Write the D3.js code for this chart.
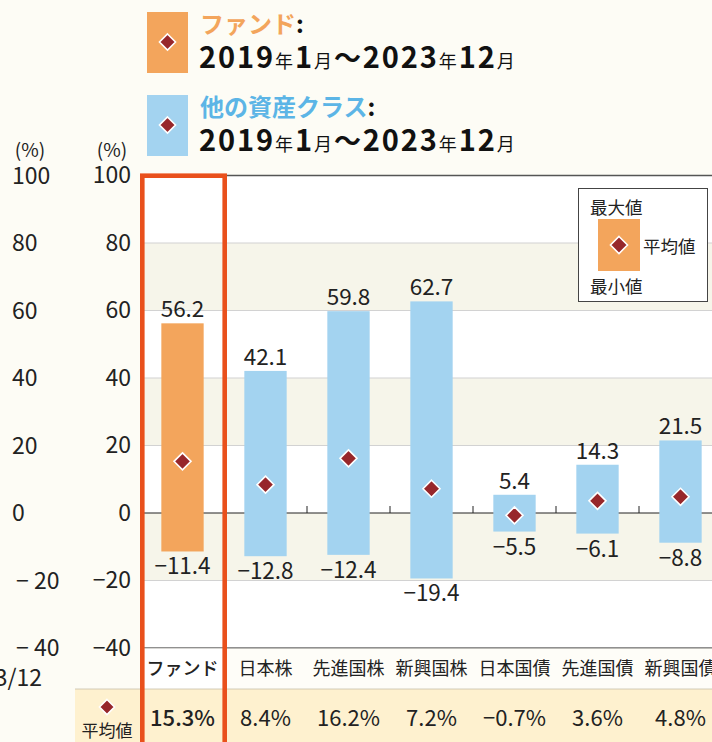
<!DOCTYPE html>
<html><head><meta charset="utf-8">
<script src="https://cdn.jsdelivr.net/npm/d3@7"></script>
<style>
html,body{margin:0;padding:0;background:#fdfcf5;}
svg{display:block;font-family:"Noto Sans CJK JP","Noto Sans",sans-serif;}
</style></head>
<body><svg id="c" width="712" height="742"></svg>
<script>
const categories = ["ファンド","日本株","先進国株","新興国株","日本国債","先進国債","新興国債"];
const maxValues = [56.2, 42.1, 59.8, 62.7, 5.4, 14.3, 21.5];
const minValues = [-11.4, -12.8, -12.4, -19.4, -5.5, -6.1, -8.8];
const avgValues = [15.3, 8.4, 16.2, 7.2, -0.7, 3.6, 4.8];
const avgLabels = ["15.3%","8.4%","16.2%","7.2%","−0.7%","3.6%","4.8%"];
const yTicks = [100, 80, 60, 40, 20, 0, -20, -40];
const yTickLabels = ["100","80","60","40","20","0","−20","−40"];
const ghostTickLabels = ["100","80","60","40","20","0","− 20","− 40"];

const ORANGE = "#f3a55c", BLUE = "#a3d3f0", DIAM = "#97272b", RED = "#e9501c";
const svg = d3.select("#c");

const x = d3.scaleBand().domain(categories).range([141, 722]).paddingInner(0.49).paddingOuter(0.245);
const xStep = d3.scaleBand().domain(categories).range([141, 722]);
const y = d3.scaleLinear().domain([-40, 100]).range([648, 175.5]);

// plot background bands
const bands = d3.range(100, -40, -20);
svg.append("g").selectAll("rect").data(bands).join("rect")
  .attr("x", 141).attr("width", 712 - 141)
  .attr("y", d => y(d)).attr("height", d => y(d - 20) - y(d))
  .attr("fill", d => (d === 80 || d === 40 || d === 0) ? "#f6f5ea" : "#ffffff");

// grid lines
svg.append("g").selectAll("line").data(yTicks).join("line")
  .attr("x1", 141).attr("x2", 712)
  .attr("y1", d => y(d)).attr("y2", d => y(d))
  .attr("stroke", d => d === 0 || d === -40 ? "#222" : (d === 100 ? "#555" : "#d2d2d2"))
  .attr("stroke-width", d => d === 100 ? 1.5 : 1.2);

// label row
svg.append("rect").attr("x", 141).attr("y", y(-40) + 0.6).attr("width", 712 - 141).attr("height", 689 - y(-40)).attr("fill", "#fefdf8");
svg.append("rect").attr("x", 142).attr("y", y(-40) + 0.6).attr("width", 83).attr("height", 689 - y(-40)).attr("fill", "#ffffff");

// ticks on zero line between categories
svg.append("g").selectAll("line").data(categories.slice(2)).join("line")
  .attr("x1", d => xStep(d)).attr("x2", d => xStep(d))
  .attr("y1", y(0) - 7).attr("y2", y(0)).attr("stroke", "#222").attr("stroke-width", 1);

// bars
svg.append("g").selectAll("rect").data(categories).join("rect")
  .attr("x", d => x(d)).attr("width", x.bandwidth())
  .attr("y", (d, i) => y(maxValues[i])).attr("height", (d, i) => y(minValues[i]) - y(maxValues[i]))
  .attr("fill", (d, i) => i === 0 ? ORANGE : BLUE);

// diamonds
function diamond(g, cx, cy, r) {
  g.append("path").attr("d", `M${cx},${cy - r}L${cx + r},${cy}L${cx},${cy + r}L${cx - r},${cy}Z`)
    .attr("fill", DIAM).attr("stroke", "#fff").attr("stroke-width", 1.6);
}
const dg = svg.append("g");
categories.forEach((c, i) => diamond(dg, x(c) + x.bandwidth() / 2, y(avgValues[i]), 8.5));

// value labels
const fmt = v => v < 0 ? "−" + Math.abs(v).toFixed(1) : v.toFixed(1);
svg.append("g").selectAll("text").data(categories).join("text")
  .attr("x", d => x(d) + x.bandwidth() / 2).attr("y", (d, i) => y(maxValues[i]) - 6)
  .attr("text-anchor", "middle").attr("font-size", 22.5).attr("fill", "#222")
  .text((d, i) => fmt(maxValues[i]));
svg.append("g").selectAll("text").data(categories).join("text")
  .attr("x", d => x(d) + x.bandwidth() / 2).attr("y", (d, i) => y(minValues[i]) + 23)
  .attr("text-anchor", "middle").attr("font-size", 22.5).attr("fill", "#222")
  .text((d, i) => fmt(minValues[i]));

// category labels
svg.append("g").selectAll("text").data(categories).join("text")
  .attr("x", d => xStep(d) + xStep.bandwidth() / 2).attr("y", 675)
  .attr("text-anchor", "middle").attr("font-size", 18).attr("fill", "#222")
  .attr("font-weight", (d, i) => i === 0 ? 500 : 400)
  .text(d => d);

// table row
svg.append("rect").attr("x", 75).attr("y", 689).attr("width", 712 - 75).attr("height", 60).attr("fill", "#fef1cf");
svg.append("line").attr("x1", 75).attr("x2", 712).attr("y1", 689).attr("y2", 689).attr("stroke", "#c8bfa8").attr("stroke-width", 0.8);
diamond(svg.append("g"), 107, 707, 7.5);
svg.append("text").attr("x", 107).attr("y", 737).attr("text-anchor", "middle").attr("font-size", 17).attr("fill", "#222").text("平均値");
svg.append("g").selectAll("text").data(categories).join("text")
  .attr("x", d => xStep(d) + xStep.bandwidth() / 2).attr("y", 726)
  .attr("text-anchor", "middle").attr("font-size", 22).attr("fill", "#222")
  .attr("font-weight", (d, i) => i === 0 ? 500 : 400)
  .text((d, i) => avgLabels[i]);

// y axis (main)
const yAxis = d3.axisLeft(y).tickValues(yTicks).tickSize(0).tickPadding(0).tickFormat((d, i) => yTickLabels[i]);
const ga = svg.append("g").attr("transform", "translate(131,0)").call(yAxis);
ga.select(".domain").remove();
ga.selectAll("text").attr("font-size", 23).attr("fill", "#222").attr("font-family", "'Noto Sans CJK JP',sans-serif");
svg.append("text").attr("x", 112).attr("y", 157).attr("text-anchor", "middle").attr("font-size", 19).attr("fill", "#222").text("(%)");

// ghost axis at left
svg.append("g").selectAll("text").data(yTicks).join("text")
  .attr("x", (d, i) => d < 0 ? 16 : 12).attr("y", d => y(d)).attr("dy", "0.35em")
  .attr("font-size", 23).attr("fill", "#222").text((d, i) => ghostTickLabels[i]);
svg.append("text").attr("x", 30).attr("y", 157).attr("text-anchor", "middle").attr("font-size", 19).attr("fill", "#222").text("(%)");
svg.append("text").attr("x", 42).attr("y", 686).attr("text-anchor", "end").attr("font-size", 23).attr("fill", "#222").text("3/12");

// red highlight box
svg.append("rect").attr("x", 142.3).attr("y", 175.7).attr("width", 82.4).attr("height", 600)
  .attr("fill", "none").attr("stroke", RED).attr("stroke-width", 4.6);

// top legend
function legendEntry(ty, color, label, labelColor) {
  const g = svg.append("g");
  g.append("rect").attr("x", 147).attr("y", ty).attr("width", 41).attr("height", 61).attr("fill", color);
  diamond(g, 167.5, ty + 30, 8);
  const t1 = g.append("text").attr("x", 200).attr("y", ty + 21).attr("font-size", 24).attr("font-weight", 700);
  t1.append("tspan").attr("fill", labelColor).text(label);
  t1.append("tspan").attr("fill", "#111").text(":");
  const t2 = g.append("text").attr("x", 199).attr("y", ty + 56).attr("fill", "#111").attr("font-weight", 700).attr("letter-spacing", 1.9);
  [["2019", 29], ["年", 18], ["1", 29], ["月", 18], ["～", 27], ["2023", 29], ["年", 18], ["12", 29], ["月", 18]]
    .forEach(([s, fs]) => t2.append("tspan").attr("font-size", fs).attr("font-weight", fs < 20 ? 400 : 700).text(s));
}
legendEntry(12, ORANGE, "ファンド", "#f3a55c");
legendEntry(95, "#a3d3f0", "他の資産クラス", "#5cb5e6");

// small legend box
const lb = svg.append("g");
lb.append("rect").attr("x", 578.5).attr("y", 188.5).attr("width", 129).attr("height", 113).attr("fill", "#fff").attr("stroke", "#444").attr("stroke-width", 1);
lb.append("text").attr("x", 590).attr("y", 214).attr("font-size", 17.5).attr("fill", "#222").text("最大値");
lb.append("rect").attr("x", 598).attr("y", 219).attr("width", 42).attr("height", 52).attr("fill", ORANGE);
diamond(lb, 619, 245, 8.5);
lb.append("text").attr("x", 643).attr("y", 253).attr("font-size", 17.5).attr("fill", "#222").text("平均値");
lb.append("text").attr("x", 590).attr("y", 293).attr("font-size", 17.5).attr("fill", "#222").text("最小値");
</script></body></html>
